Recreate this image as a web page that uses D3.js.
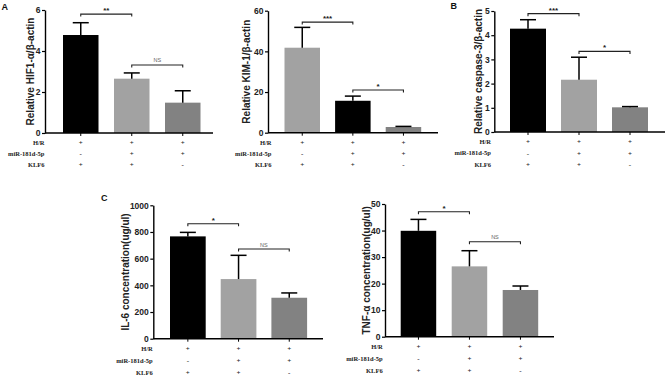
<!DOCTYPE html>
<html>
<head>
  <meta charset="utf-8">
  <title>HIF1 / KIM-1 / caspase-3 / IL-6 / TNF-a</title>
  <script src="https://cdn.jsdelivr.net/npm/d3@7"></script>
  <style>
    body { margin: 0; background: #fff; }
    svg { display: block; }
  </style>
</head>
<body>
<script>
  var width = 666;
  var height = 377;

  // groups and the condition rows under each bar
  var groups = ["g1", "g2", "g3"];
  var rowNames = ["H/R", "miR-181d-5p", "KLF6"];
  var hrRow = ["+", "+", "+"];
  var mirRow = ["-", "+", "+"];
  var klf6Row = ["+", "+", "-"];

  // values (mean, upper error)
  var hifMean = [4.78, 2.65, 1.48];
  var hifErr = [0.60, 0.28, 0.58];
  var kimMean = [41.8, 15.7, 2.8];
  var kimErr = [10.0, 2.3, 0.3];
  var caspMean = [4.27, 2.16, 1.02];
  var caspErr = [0.37, 0.93, 0.03];
  var il6Mean = [767, 447, 307];
  var il6Err = [30, 178, 36];
  var tnfMean = [39.9, 26.5, 17.6];
  var tnfErr = [4.3, 5.9, 1.5];

  // tick labels
  var hifTicks = [0, 2, 4, 6];
  var kimTicks = [0, 20, 40, 60];
  var caspTicks = [0, 1, 2, 3, 4, 5];
  var il6Ticks = [0, 200, 400, 600, 800, 1000];
  var tnfTicks = [0, 10, 20, 30, 40, 50];

  // significance brackets: from group, to group, text, level (data units)
  var hifSig = [[0, 1, "**", 5.8], [1, 2, "NS", 3.32]];
  var kimSig = [[0, 1, "***", 54.4], [1, 2, "*", 21]];
  var caspSig = [[0, 1, "***", 4.89], [1, 2, "*", 3.33]];
  var il6Sig = [[0, 1, "*", 862], [1, 2, "NS", 672]];
  var tnfSig = [[0, 1, "*", 47.1], [1, 2, "NS", 35.8]];

  var black = "#000000", light = "#a2a2a2", dark = "#828282";

  var svg = d3.select("body")
    .append("svg")
    .attr("width", width)
    .attr("height", height);

  function drawPanel(p) {
    var g = svg.append("g");

    var yScale = d3.scaleLinear()
      .domain([0, p.ymax])
      .range([p.bottom, p.top]);

    var xScale = d3.scaleBand()
      .domain(groups)
      .range([p.barLeft, p.barLeft + 3 * p.step - (p.step - p.bw)])
      .paddingInner((p.step - p.bw) / p.step)
      .paddingOuter(0);

    var cx = function(i) { return xScale(groups[i]) + xScale.bandwidth() / 2; };

    // bars
    g.selectAll("rect.bar")
      .data(p.mean)
      .enter()
      .append("rect")
      .attr("class", "bar")
      .attr("x", function(d, i) { return xScale(groups[i]); })
      .attr("y", function(d) { return yScale(d); })
      .attr("width", xScale.bandwidth())
      .attr("height", function(d) { return p.bottom - yScale(d); })
      .attr("fill", function(d, i) { return p.colors[i]; });

    // error bars (upper only)
    p.mean.forEach(function(m, i) {
      var top = yScale(m + p.err[i]);
      g.append("line")
        .attr("x1", cx(i)).attr("x2", cx(i))
        .attr("y1", yScale(m)).attr("y2", top)
        .attr("stroke", "#000").attr("stroke-width", 1.5);
      g.append("line")
        .attr("x1", cx(i) - 8).attr("x2", cx(i) + 8)
        .attr("y1", top).attr("y2", top)
        .attr("stroke", "#000").attr("stroke-width", 1.5);
    });

    // y axis
    var yAxis = g.append("g")
      .attr("transform", "translate(" + p.x + ",0)")
      .call(d3.axisLeft(yScale).tickValues(p.ticks).tickFormat(d3.format("d"))
        .tickSize(3).tickPadding(1.5).tickSizeOuter(0));
    yAxis.select(".domain").attr("stroke-width", 1.4);
    yAxis.selectAll(".tick line").attr("stroke-width", 1.2);
    yAxis.selectAll("text")
      .attr("font-family", "Liberation Sans, Arial, sans-serif")
      .attr("font-weight", "bold")
      .attr("font-size", "8.5px")
      .attr("fill", "#222");

    // x axis line with ticks at the bars
    g.append("line")
      .attr("x1", p.x).attr("x2", p.axisEnd)
      .attr("y1", p.bottom).attr("y2", p.bottom)
      .attr("stroke", "#000").attr("stroke-width", 1.4);
    groups.forEach(function(k, i) {
      g.append("line")
        .attr("x1", cx(i)).attr("x2", cx(i))
        .attr("y1", p.bottom).attr("y2", p.bottom + 3)
        .attr("stroke", "#000").attr("stroke-width", 1);
    });

    // y label
    g.append("text")
      .attr("transform", "translate(" + p.labelX + "," + ((p.top + p.bottom) / 2) + ") rotate(-90)")
      .attr("dy", "0.35em")
      .attr("text-anchor", "middle")
      .attr("font-family", "Liberation Sans, Arial, sans-serif")
      .attr("font-weight", "bold")
      .attr("font-size", "10px")
      .attr("fill", "#222")
      .text(p.ylabel);

    // condition rows
    [hrRow, mirRow, klf6Row].forEach(function(row, r) {
      var ry = p.bottom + 10 + r * p.rowGap;
      g.append("text")
        .attr("x", p.rowX).attr("y", ry)
        .attr("dy", "0.35em")
        .attr("text-anchor", "end")
        .attr("font-family", "Liberation Serif, Times New Roman, serif")
        .attr("font-weight", "bold")
        .attr("font-size", "6.5px")
        .attr("fill", "#222")
        .text(rowNames[r]);
      row.forEach(function(s, i) {
        g.append("text")
          .attr("x", cx(i)).attr("y", ry)
          .attr("dy", "0.35em")
          .attr("text-anchor", "middle")
          .attr("font-family", "Liberation Serif, Times New Roman, serif")
          .attr("font-weight", "bold")
          .attr("font-size", "7px")
          .attr("fill", "#222")
          .text(s);
      });
    });

    // significance brackets
    p.sig.forEach(function(s) {
      var by = yScale(s[3]);
      var x1 = cx(s[0]), x2 = cx(s[1]);
      g.append("path")
        .attr("d", "M" + x1 + "," + (by + 2.5) + "V" + by + "H" + x2 + "V" + (by + 2.5))
        .attr("fill", "none")
        .attr("stroke", "#222")
        .attr("stroke-width", 1.1);
      var ns = s[2] === "NS";
      g.append("text")
        .attr("x", (x1 + x2) / 2)
        .attr("y", by - (ns ? 2.5 : 1))
        .attr("text-anchor", "middle")
        .attr("font-family", "Liberation Sans, Arial, sans-serif")
        .attr("font-weight", ns ? "normal" : "bold")
        .attr("font-size", ns ? "5.5px" : "8px")
        .attr("fill", ns ? "#666" : "#222")
        .text(s[2]);
    });

    // panel letter
    if (p.letter) {
      g.append("text")
        .attr("x", p.letterX).attr("y", p.letterY)
        .attr("font-family", "Liberation Sans, Arial, sans-serif")
        .attr("font-weight", "bold")
        .attr("font-size", "9px")
        .attr("fill", "#111")
        .text(p.letter);
    }
  }

  drawPanel({ mean: hifMean, err: hifErr, ticks: hifTicks, sig: hifSig, ymax: 6,
    colors: [black, light, dark], ylabel: "Relative HIF1-\u03b1/\u03b2-actin",
    x: 45, top: 10, bottom: 133, barLeft: 63, step: 51, bw: 35.5, axisEnd: 213,
    labelX: 30, rowX: 44.5, rowGap: 11, letter: "A", letterX: 1.5, letterY: 9.5 });

  drawPanel({ mean: kimMean, err: kimErr, ticks: kimTicks, sig: kimSig, ymax: 60,
    colors: [light, black, dark], ylabel: "Relative KIM-1/\u03b2-actin",
    x: 268, top: 10.7, bottom: 132.7, barLeft: 284.5, step: 50.6, bw: 35.5, axisEnd: 438,
    labelX: 246.7, rowX: 271.5, rowGap: 11 });

  drawPanel({ mean: caspMean, err: caspErr, ticks: caspTicks, sig: caspSig, ymax: 5,
    colors: [black, light, dark], ylabel: "Relative caspase-3/\u03b2-actin",
    x: 494.3, top: 11, bottom: 132, barLeft: 510, step: 51, bw: 36, axisEnd: 665,
    labelX: 478, rowX: 491, rowGap: 11.2, letter: "B", letterX: 450.5, letterY: 9 });

  drawPanel({ mean: il6Mean, err: il6Err, ticks: il6Ticks, sig: il6Sig, ymax: 1000,
    colors: [black, light, dark], ylabel: "IL-6 concentration(ug/ul)",
    x: 153.3, top: 205.3, bottom: 338.7, barLeft: 170, step: 50.7, bw: 35.7, axisEnd: 323,
    labelX: 125, rowX: 152.7, rowGap: 11.8, letter: "C", letterX: 101, letterY: 200.5 });

  drawPanel({ mean: tnfMean, err: tnfErr, ticks: tnfTicks, sig: tnfSig, ymax: 50,
    colors: [black, light, dark], ylabel: "TNF-\u03b1 concentration(ug/ul)",
    x: 385, top: 204, bottom: 336.7, barLeft: 400.7, step: 51, bw: 35.5, axisEnd: 554,
    labelX: 366.7, rowX: 382.7, rowGap: 11.8 });
</script>
</body>
</html>
